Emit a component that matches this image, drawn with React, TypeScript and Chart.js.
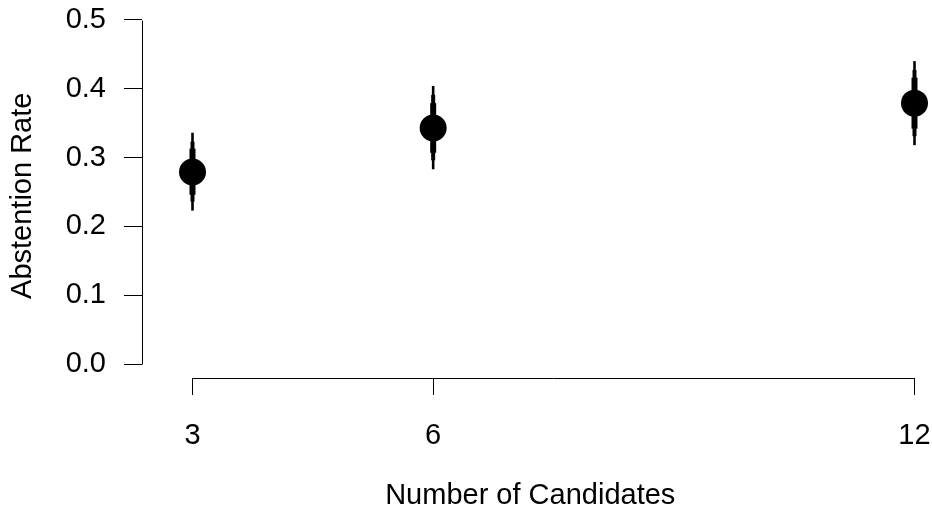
import React, { useEffect, useRef } from "react";
import { Chart, registerables } from "chart.js";

Chart.register(...registerables);

// Data
const candidates = [3, 6, 12];
const rate = [0.279, 0.343, 0.379];
const lo95 = [0.223, 0.283, 0.318];
const hi95 = [0.336, 0.404, 0.44];
const lo90 = [0.236, 0.296, 0.331];
const hi90 = [0.323, 0.391, 0.427];
const lo80 = [0.246, 0.307, 0.342];
const hi80 = [0.313, 0.379, 0.416];
const yTicks = [0, 0.1, 0.2, 0.3, 0.4, 0.5];
const xTicks = [3, 6, 12];
const xTitle = "Number of Candidates";
const yTitle = "Abstention Rate";

const FONT = "'Liberation Sans', Arial, Helvetica, sans-serif";
const FS = 29;

const intervalPlugin = {
  id: "intervals",
  beforeDatasetsDraw(chart: any) {
    const { ctx } = chart;
    const xs = chart.scales.x;
    const ys = chart.scales.y;
    const levels = [
      { lo: lo95, hi: hi95, w: 2.6 },
      { lo: lo90, hi: hi90, w: 4 },
      { lo: lo80, hi: hi80, w: 6 },
    ];
    ctx.save();
    ctx.strokeStyle = "#000";
    ctx.lineCap = "butt";
    levels.forEach((lv) => {
      ctx.lineWidth = lv.w;
      candidates.forEach((c, i) => {
        const x = xs.getPixelForValue(c);
        ctx.beginPath();
        ctx.moveTo(x, ys.getPixelForValue(lv.lo[i]));
        ctx.lineTo(x, ys.getPixelForValue(lv.hi[i]));
        ctx.stroke();
      });
    });
    ctx.restore();
  },
  afterDraw(chart: any) {
    const { ctx, chartArea } = chart;
    const xs = chart.scales.x;
    const ys = chart.scales.y;
    ctx.save();
    ctx.strokeStyle = "#000";
    ctx.lineWidth = 1;
    const ax = Math.round(chartArea.left) + 0.5;
    ctx.beginPath();
    ctx.moveTo(ax, Math.round(ys.getPixelForValue(yTicks[0])) + 0.5);
    ctx.lineTo(ax, Math.round(ys.getPixelForValue(yTicks[yTicks.length - 1])) + 0.5);
    ctx.stroke();
    const ay = Math.round(chartArea.bottom) + 0.5;
    ctx.beginPath();
    ctx.moveTo(Math.round(xs.getPixelForValue(xTicks[0])) + 0.5, ay);
    ctx.lineTo(Math.round(xs.getPixelForValue(xTicks[xTicks.length - 1])) + 0.5, ay);
    ctx.stroke();
    ctx.restore();
  },
};

const zeroPad = (s: any) => {
  s.paddingLeft = 0;
  s.paddingRight = 0;
  s.paddingTop = 0;
  s.paddingBottom = 0;
};

export default function App() {
  const ref = useRef<HTMLCanvasElement | null>(null);
  useEffect(() => {
    document.body.style.margin = "0";
    document.body.style.overflow = "hidden";
    const canvas = ref.current!;
    const chart: any = new Chart(canvas, {
      type: "scatter",
      data: {
        datasets: [
          {
            data: candidates.map((c, i) => ({ x: c, y: rate[i] })),
            backgroundColor: "#000",
            borderColor: "#000",
            pointRadius: 13.5,
            pointBorderWidth: 0,
            pointHoverRadius: 13.5,
            clip: false,
          },
        ],
      },
      options: {
        responsive: false,
        animation: false,
        events: [],
        layout: { padding: { top: 6, right: 10, left: 0, bottom: 0 } },
        plugins: {
          legend: { display: false },
          tooltip: { enabled: false },
        },
        scales: {
          x: {
            type: "linear",
            min: 2.37,
            max: 12.1,
            afterFit: (s: any) => {
              s.height = 136;
              zeroPad(s);
            },
            afterBuildTicks: (s: any) => {
              s.ticks = xTicks.map((v) => ({ value: v }));
            },
            grid: {
              drawOnChartArea: false,
              drawTicks: true,
              tickLength: 17,
              tickColor: "#000",
              tickWidth: 1,
            },
            border: { display: false },
            ticks: {
              color: "#000",
              font: { family: FONT, size: FS },
              padding: 24,
              maxRotation: 0,
              autoSkip: false,
              callback: (v: any) => String(v),
            },
            title: {
              display: true,
              text: xTitle,
              color: "#000",
              font: { family: FONT, size: FS },
              padding: { top: 0, bottom: 1 },
            },
          },
          y: {
            type: "linear",
            min: -0.02,
            max: 0.52,
            afterFit: (s: any) => {
              s.width = 142;
              zeroPad(s);
            },
            afterBuildTicks: (s: any) => {
              s.ticks = yTicks.map((v) => ({ value: v }));
            },
            grid: {
              drawOnChartArea: false,
              drawTicks: true,
              tickLength: 18,
              tickColor: "#000",
              tickWidth: 1,
            },
            border: { display: false },
            ticks: {
              color: "#000",
              font: { family: FONT, size: FS },
              padding: 18,
              autoSkip: false,
              callback: (v: any) => Number(v).toFixed(1),
            },
            title: {
              display: true,
              text: yTitle,
              color: "#000",
              font: { family: FONT, size: FS },
              padding: { top: 6, bottom: 0 },
            },
          },
        },
      },
      plugins: [intervalPlugin],
    } as any);

    // Calibrate scale ranges so that axis values land where the reference puts them.
    const area = chart.chartArea;
    const y0 = 364.2; // pixel of y = 0
    const y5 = 19.8; // pixel of y = 0.5
    const yUnit = (y0 - y5) / 0.5;
    chart.options.scales.y.max = 0.5 + (y5 - area.top) / yUnit;
    chart.options.scales.y.min = -(area.bottom - y0) / yUnit;
    const x3 = 192.5;
    const x12 = 914.5;
    const xUnit = (x12 - x3) / 9;
    chart.options.scales.x.min = 3 - (x3 - area.left) / xUnit;
    chart.options.scales.x.max = Math.max(12.02, 12 + (area.right - x12) / xUnit);
    chart.update();

    return () => chart.destroy();
  }, []);
  return <canvas ref={ref} width={932} height={514} style={{ display: "block" }} />;
}
